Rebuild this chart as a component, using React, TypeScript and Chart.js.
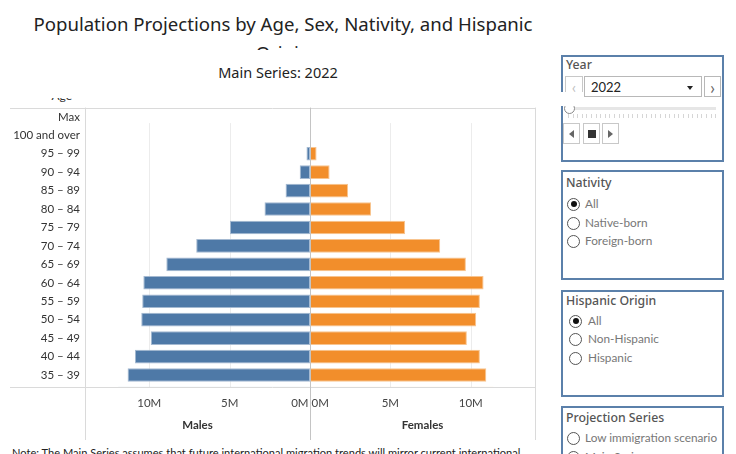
import React, { useEffect, useRef } from "react";
import { Chart, registerables } from "chart.js";
Chart.register(...registerables);

// ---- data (millions) ----
const ageGroups = [
  "Max", "100 and over", "95 – 99", "90 – 94", "85 – 89", "80 – 84", "75 – 79", "70 – 74",
  "65 – 69", "60 – 64", "55 – 59", "50 – 54", "45 – 49", "40 – 44", "35 – 39", "30 – 34",
];
const malesM: (number | null)[] = [null, null, 0.22, 0.64, 1.52, 2.83, 4.98, 7.08, 8.94, 10.37, 10.44, 10.5, 9.91, 10.89, 11.35, 11.94];
const femalesM: (number | null)[] = [null, null, 0.41, 1.22, 2.37, 3.8, 5.92, 8.1, 9.7, 10.8, 10.57, 10.34, 9.76, 10.57, 10.97, 11.42];
const xTickValuesM = [-10, -5, 0, 5, 10];
const panelTitles = ["Males", "Females"];
const mainTitle = "Population Projections by Age, Sex, Nativity, and Hispanic Origin";
const subTitle = "Main Series: 2022";
const rowHeader = "Age";
const nativityOptions = ["All", "Native-born", "Foreign-born"];
const hispanicOptions = ["All", "Non-Hispanic", "Hispanic"];
const seriesOptions = ["Low immigration scenario", "Main Series"];
const yearValue = "2022";
const noteText =
  "Note: The Main Series assumes that future international migration trends will mirror current international migration trends.";

const FONT = "Lato, 'Noto Sans', sans-serif";
const TITLE_FONT = "'Noto Sans', Lato, sans-serif";
const BLUE = "#4e79a7";
const ORANGE = "#f28e2b";

const line = (ctx: CanvasRenderingContext2D, x1: number, y1: number, x2: number, y2: number) => {
  ctx.beginPath();
  ctx.moveTo(x1, y1);
  ctx.lineTo(x2, y2);
  ctx.stroke();
};

const framePlugin = {
  id: "frame",
  beforeDatasetsDraw(chart: any) {
    const { ctx, chartArea: a, scales } = chart;
    const x = scales.x;
    ctx.save();
    ctx.lineWidth = 1;
    ctx.strokeStyle = "#ececec";
    x.ticks.forEach((t: any) => {
      if (t.value === 0) return;
      const px = Math.round(x.getPixelForValue(t.value)) + 0.5;
      line(ctx, px, a.top + 15.5, px, a.bottom);
    });
    ctx.restore();
  },
  afterDraw(chart: any) {
    const { ctx, chartArea: a, scales } = chart;
    const x = scales.x;
    const z = x.getPixelForValue(0);
    ctx.save();
    ctx.lineWidth = 1;
    ctx.strokeStyle = "#dadada";
    line(ctx, 0, Math.round(a.top) + 0.5, a.right, Math.round(a.top) + 0.5);
    line(ctx, 0, Math.round(a.bottom) + 0.5, a.right, Math.round(a.bottom) + 0.5);
    line(ctx, Math.round(a.left) + 0.5, a.top, Math.round(a.left) + 0.5, a.bottom + 53);
    line(ctx, Math.round(a.right) + 0.5, a.top, Math.round(a.right) + 0.5, a.bottom + 53);
    ctx.strokeStyle = "#c4c4c4";
    line(ctx, Math.round(z) + 0.5, a.top, Math.round(z) + 0.5, a.bottom + 53);
    ctx.fillStyle = "#333";
    ctx.font = `bold 11.5px ${FONT}`;
    ctx.textAlign = "center";
    ctx.textBaseline = "middle";
    ctx.fillText(panelTitles[0], (a.left + z) / 2, a.bottom + 38.5);
    ctx.fillText(panelTitles[1], (z + a.right) / 2, a.bottom + 38.5);
    ctx.restore();
  },
};

function Pyramid() {
  const ref = useRef<HTMLCanvasElement | null>(null);
  useEffect(() => {
    if (!ref.current) return;
    const males = ageGroups
      .map((_, i) => (malesM[i] == null ? null : { x: -(malesM[i] as number) * 1e6, y: i }))
      .filter(Boolean);
    const females = ageGroups
      .map((_, i) => (femalesM[i] == null ? null : { x: (femalesM[i] as number) * 1e6, y: i }))
      .filter(Boolean);
    const chart = new Chart(ref.current, {
      type: "bar",
      data: {
        datasets: [
          {
            label: panelTitles[0],
            data: males as any,
            backgroundColor: BLUE,
            borderColor: "#a4b9d1",
            borderWidth: 1,
            borderSkipped: false,
            grouped: false,
            clip: 0,
            barPercentage: 0.74,
            categoryPercentage: 1,
          } as any,
          {
            label: panelTitles[1],
            data: females as any,
            backgroundColor: ORANGE,
            borderColor: "#f8c48f",
            borderWidth: 1,
            borderSkipped: false,
            grouped: false,
            clip: 0,
            barPercentage: 0.74,
            categoryPercentage: 1,
          } as any,
        ],
      },
      options: {
        indexAxis: "y",
        animation: false,
        responsive: true,
        maintainAspectRatio: false,
        layout: { padding: { top: 7.6, right: 2, left: 0, bottom: 0 } },
        plugins: { legend: { display: false }, tooltip: { enabled: false }, title: { display: false } },
        scales: {
          x: {
            type: "linear",
            min: -14e6,
            max: 14e6,
            afterBuildTicks: (s: any) => {
              s.ticks = xTickValuesM.map((v) => ({ value: v * 1e6 }));
            },
            afterFit: (s: any) => {
              s.height = 58;
            },
            border: { display: false },
            grid: { display: false, drawTicks: false },
            ticks: {
              padding: 9,
              color: "#444",
              font: { family: FONT, size: 11.5 },
              maxRotation: 0,
              autoSkip: false,
              callback: (v: any) => (Number(v) === 0 ? "0M 0M" : `${Math.abs(Number(v)) / 1e6}M`),
            },
          },
          y: {
            type: "linear",
            reverse: true,
            offset: false,
            min: -0.5,
            max: 14.65,
            afterBuildTicks: (s: any) => {
              s.ticks = ageGroups.slice(0, 15).map((_, i) => ({ value: i }));
            },
            afterFit: (s: any) => {
              s.width = 75;
              s.paddingTop = 0;
              s.paddingBottom = 0;
            },
            border: { display: false },
            grid: { display: false, drawTicks: false, offset: false },
            ticks: {
              padding: 5,
              color: "#333",
              font: { family: FONT, size: 11.5 },
              autoSkip: false,
              callback: (v: any) => ageGroups[Number(v)] ?? "",
            },
          },
        },
      } as any,
      plugins: [framePlugin],
    });
    return () => chart.destroy();
  }, []);
  return (
    <div style={{ position: "absolute", left: 10, top: 100, width: 527, height: 345 }}>
      <canvas ref={ref} />
    </div>
  );
}

const boxStyle: React.CSSProperties = {
  position: "absolute",
  left: 561,
  width: 159,
  border: "2px solid #5b80aa",
  background: "#fff",
  boxSizing: "content-box",
};

const boxTitleStyle: React.CSSProperties = {
  position: "absolute",
  left: 566,
  lineHeight: "16px",
  fontSize: 12.3,
  color: "#555",
  fontFamily: TITLE_FONT,
  fontWeight: 500,
  whiteSpace: "nowrap",
};

function Radio({ label, checked, top, cx, tx }: { label: string; checked: boolean; top: number; cx: number; tx: number }) {
  return (
    <>
      <div
        style={{
          position: "absolute",
          left: cx - 6,
          top: top - 6,
          width: 11,
          height: 11,
          borderRadius: "50%",
          border: "1px solid #555",
          background: "#fff",
        }}
      >
        {checked && (
          <div style={{ position: "absolute", left: 2.5, top: 2.5, width: 6, height: 6, borderRadius: "50%", background: "#111" }} />
        )}
      </div>
      <div style={{ position: "absolute", left: tx, top: top - 8, lineHeight: "16px", fontSize: 11.8, color: "#777", whiteSpace: "nowrap" }}>
        {label}
      </div>
    </>
  );
}

function RadioBox({ title, options, selected, top, height, rows, cx, tx, titleY }: any) {
  return (
    <>
      <div style={{ ...boxStyle, top, height }} />
      <div style={{ ...boxTitleStyle, top: titleY - 8 }}>{title}</div>
      {options.map((o: string, i: number) => (
        <Radio key={o} label={o} checked={o === selected} top={rows[i]} cx={cx} tx={tx} />
      ))}
    </>
  );
}

function YearBox() {
  const btn: React.CSSProperties = {
    position: "absolute",
    border: "1px solid #c8c8c8",
    background: "#fff",
    boxSizing: "border-box",
    display: "flex",
    alignItems: "center",
    justifyContent: "center",
  };
  return (
    <>
      <div style={{ ...boxStyle, top: 55, height: 103 }} />
      <div style={{ ...boxTitleStyle, top: 57 }}>Year</div>
      <div style={{ ...btn, left: 565, top: 76, width: 18, height: 21, color: "#c0c0c0", fontSize: 16 }}>‹</div>
      <div style={{ ...btn, left: 584, top: 76, width: 118, height: 21, border: "1px solid #b8b8b8", justifyContent: "flex-start", paddingLeft: 6, fontSize: 13, color: "#222" }}>
        {yearValue}
        <div style={{ position: "absolute", right: 8, top: 9, width: 0, height: 0, borderLeft: "3.5px solid transparent", borderRight: "3.5px solid transparent", borderTop: "4px solid #222" }} />
      </div>
      <div style={{ ...btn, left: 704, top: 76, width: 17, height: 21, color: "#666", fontSize: 18, border: "1px solid #b8b8b8" }}>›</div>
      <div style={{ position: "absolute", left: 552, top: 92, width: 32, height: 14, background: "#fff" }} />
      <div style={{ position: "absolute", left: 568, top: 107, width: 148, height: 3, background: "#e6e6e6" }} />
      <div
        style={{
          position: "absolute",
          left: 568,
          top: 114,
          width: 149,
          height: 4,
          background: "repeating-linear-gradient(90deg, #d6d6d6 0px, #d6d6d6 1px, transparent 1px, transparent 4.6px)",
        }}
      />
      <div style={{ position: "absolute", left: 564, top: 103, width: 9, height: 9, borderRadius: "50%", border: "1px solid #888", background: "#fff", clipPath: "inset(3px 0 0 0)" }} />
      <div style={{ ...btn, left: 563, top: 123, width: 17, height: 21 }}>
        <div style={{ width: 0, height: 0, borderTop: "4px solid transparent", borderBottom: "4px solid transparent", borderRight: "5px solid #666" }} />
      </div>
      <div style={{ ...btn, left: 583, top: 123, width: 17, height: 21 }}>
        <div style={{ width: 8, height: 8, background: "#333" }} />
      </div>
      <div style={{ ...btn, left: 602, top: 123, width: 17, height: 21 }}>
        <div style={{ width: 0, height: 0, borderTop: "4px solid transparent", borderBottom: "4px solid transparent", borderLeft: "5px solid #666" }} />
      </div>
    </>
  );
}

export default function App() {
  return (
    <div
      style={{
        position: "fixed",
        left: 0,
        top: 0,
        width: 736,
        height: 454,
        overflow: "hidden",
        background: "#fff",
        fontFamily: FONT,
      }}
    >
      <div
        style={{
          position: "absolute",
          left: 18,
          top: 9,
          width: 530,
          height: 40.5,
          overflow: "hidden",
          textAlign: "center",
          fontSize: 18.6,
          lineHeight: "29px",
          color: "#222",
          fontFamily: TITLE_FONT,
        }}
      >
        {mainTitle}
      </div>
      <div style={{ position: "absolute", left: 0, width: 556, top: 62, textAlign: "center", fontSize: 14.5, lineHeight: "20px", color: "#222", fontFamily: TITLE_FONT }}>
        {subTitle}
      </div>
      <div style={{ position: "absolute", left: 10, width: 62, top: 97.5, height: 9, overflow: "hidden", textAlign: "right" }}>
        <div style={{ position: "absolute", right: 0, top: -9.6, fontSize: 12, lineHeight: "16px", color: "#333" }}>{rowHeader}</div>
      </div>
      <Pyramid />
      <div style={{ position: "absolute", left: 12, top: 445, width: 520, fontSize: 11.1, lineHeight: "16px", color: "#222" }}>
        {noteText}
      </div>
      <YearBox />
      <RadioBox title="Nativity" options={nativityOptions} selected="All" top={170} height={106} rows={[203.5, 222.5, 241]} cx={573} tx={585} titleY={183} />
      <RadioBox title="Hispanic Origin" options={hispanicOptions} selected="All" top={290} height={103} rows={[320.5, 339.3, 357.7]} cx={575} tx={588} titleY={300.5} />
      <RadioBox title="Projection Series" options={seriesOptions} selected="Main Series" top={406} height={80} rows={[437.7, 456.5]} cx={573} tx={585} titleY={417.5} />
    </div>
  );
}
